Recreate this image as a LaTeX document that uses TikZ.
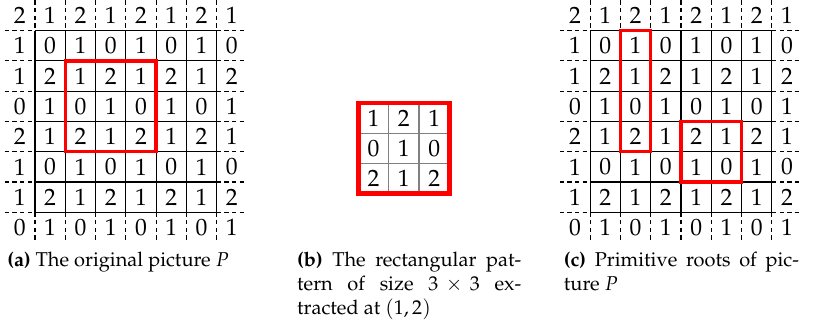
\documentclass[tikz,border=0pt]{standalone}
\usepackage[T1]{fontenc}
\usepackage{mathpazo}
\begin{document}
\begin{tikzpicture}[x=15.14pt, y=-15.14pt,
		cellnum/.style={inner sep=0pt, font=\fontsize{11.8}{14}\selectfont},
		gridline/.style={line width=0.55pt},
		gridext/.style={line width=0.55pt, dash pattern=on 2.2pt off 1.6pt},
		rootbox/.style={draw=red, line width=1.7pt},
		subcap/.style={anchor=base west, inner sep=0pt, align=justify, font=\fontsize{10}{12}\selectfont}]
		\useasboundingbox (-0.155,-0.01) rectangle (26.72,10.79);

		% The two 8x8 pictures (a) and (c)
		\foreach \g/\dx in {a/0, c/18.33} {
				\begin{scope}[shift={(\dx,0)}]
					% Solid inner grid and dashed border extensions
					\foreach \i in {1,...,7} {
							\draw[gridline] (\i,1) -- (\i,7);
							\draw[gridline] (1,\i) -- (7,\i);
							\draw[gridext] (\i,0) -- (\i,1);
							\draw[gridext] (\i,7) -- (\i,8);
							\draw[gridext] (0,\i) -- (1,\i);
							\draw[gridext] (7,\i) -- (8,\i);
						}
					% Cell values
					\foreach \row [count=\r from 0] in {{2,1,2,1,2,1,2,1},{1,0,1,0,1,0,1,0},{1,2,1,2,1,2,1,2},{0,1,0,1,0,1,0,1},{2,1,2,1,2,1,2,1},{1,0,1,0,1,0,1,0},{1,2,1,2,1,2,1,2},{0,1,0,1,0,1,0,1}} {
							\foreach \v [count=\c from 0] in \row {
									\node[cellnum] (\g-\r-\c) at (\c+0.5,\r+0.5) {\v};
								}
						}
				\end{scope}
			}

		% Extracted pattern in (a)
		\draw[rootbox] (2,2) rectangle (5,5);

		% Primitive roots in (c)
		\begin{scope}[shift={(18.33,0)}]
			\draw[rootbox] (2,1) rectangle (3,5);
			\draw[rootbox] (4,4) rectangle (6,6);
		\end{scope}

		% The 3x3 pattern (b)
		\begin{scope}[shift={(11.68,3.385)}]
			\foreach \i in {1,2} {
					\draw[gray, line width=0.6pt] (\i,0) -- (\i,3);
					\draw[gray, line width=0.6pt] (0,\i) -- (3,\i);
				}
			\foreach \row [count=\r from 0] in {{1,2,1},{0,1,0},{2,1,2}} {
					\foreach \v [count=\c from 0] in \row {
							\node[cellnum] (b-\r-\c) at (\c+0.5,\r+0.5) {\v};
						}
				}
			\draw[draw=red, line width=2.2pt] (0,0) rectangle (3,3);
		\end{scope}

		% Subcaptions
		\node[subcap, align=left] (capa) at (0.076,8.785) {\textbf{(a)} The original picture $P$};
		\node[subcap, text width=112pt] (capb) at (9.643,8.785)
		{\textbf{(b)} The rectangular pat-\linebreak tern of size $3\times 3$ ex-\linebreak tracted at $(1,2)$};
		\node[subcap, text width=117.5pt] (capc) at (18.45,8.785)
		{\textbf{(c)} Primitive roots of pic-\linebreak ture $P$};
	\end{tikzpicture}
\end{document}
